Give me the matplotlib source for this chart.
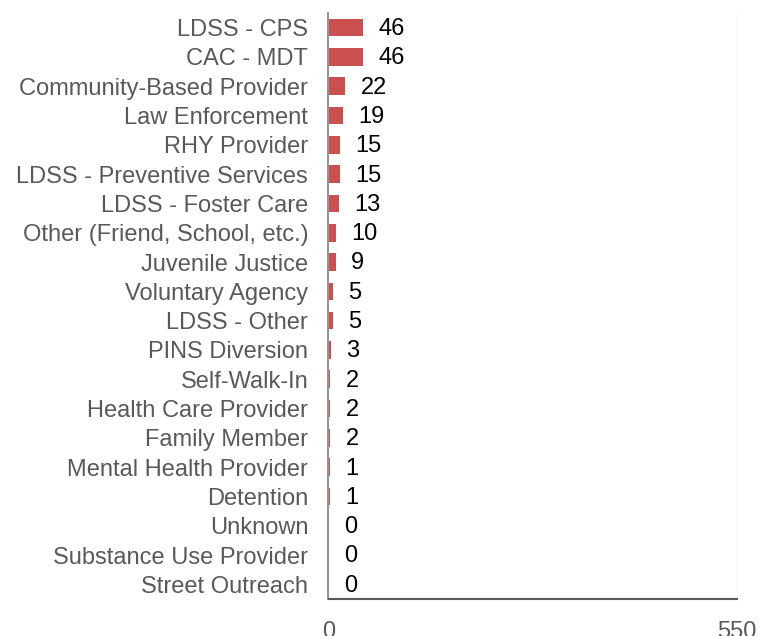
import matplotlib.pyplot as plt

plt.rcParams['font.family'] = ['Liberation Sans', 'DejaVu Sans']

# referral sources, top to bottom
sources = [
    'LDSS - CPS', 'CAC - MDT', 'Community-Based Provider', 'Law Enforcement',
    'RHY Provider', 'LDSS - Preventive Services', 'LDSS - Foster Care',
    'Other (Friend, School, etc.)', 'Juvenile Justice', 'Voluntary Agency',
    'LDSS - Other', 'PINS Diversion', 'Self-Walk-In', 'Health Care Provider',
    'Family Member', 'Mental Health Provider', 'Detention', 'Unknown',
    'Substance Use Provider', 'Street Outreach',
]
counts = [46, 46, 22, 19, 15, 15, 13, 10, 9, 5, 5, 3, 2, 2, 2, 1, 1, 0, 0, 0]
x_ticks = [0, 550]

fig = plt.figure(figsize=(7.59, 6.36), dpi=100)
ax = fig.add_axes([329 / 759, 37 / 636, 408 / 759, 586 / 636])

# spine styling first (set_position resets the tick labels)
ax.spines['top'].set_visible(False)
ax.spines['right'].set_visible(False)
ax.spines['left'].set_position(('outward', 1))
ax.spines['left'].set_color('#808080')
ax.spines['bottom'].set_color('#595959')
ax.spines['left'].set_linewidth(1.2)
ax.spines['bottom'].set_linewidth(1.5)

ypos = list(range(len(sources)))[::-1]
ax.barh(ypos, counts, height=0.6, color='#C9504F')

for y, v in zip(ypos, counts):
    ax.annotate(str(v), (v, y), xytext=(11, -1), textcoords='offset points',
                va='center', ha='left', fontsize=17, color='black')

ax.set_xlim(0, 550)
ax.set_ylim(-0.5, len(sources) - 0.5)
ax.set_yticks(ypos)
ax.set_yticklabels(sources, fontsize=17, color='#595959')
ax.set_xticks(x_ticks)
ax.set_xticklabels([str(t) for t in x_ticks], fontsize=17, color='#595959')
ax.tick_params(axis='y', length=0, pad=14)
ax.tick_params(axis='x', length=0, pad=16)

ax.axvline(550, color='#E5E5E5', lw=1)

fig.savefig('out.png', dpi=100)
